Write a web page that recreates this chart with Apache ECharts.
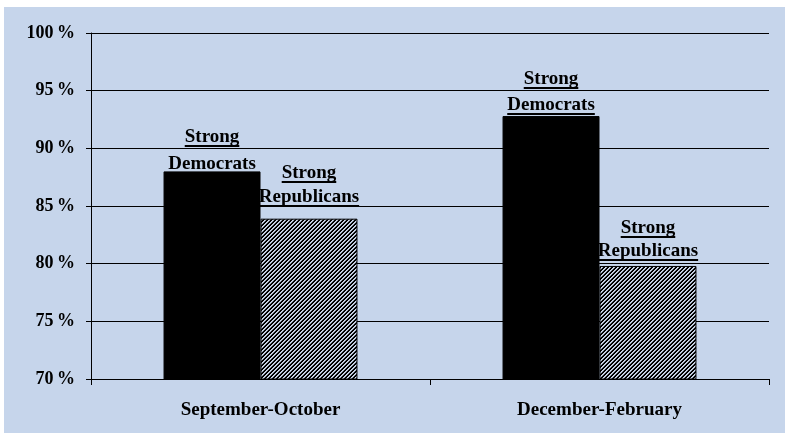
<!DOCTYPE html>
<html>
<head>
<meta charset="utf-8">
<script src="https://cdn.jsdelivr.net/npm/echarts@6/dist/echarts.min.js"></script>
<style>
html,body{margin:0;padding:0;background:#fff;}
#wrap{position:relative;width:785px;height:433px;overflow:hidden;}
#bg{position:absolute;left:4px;top:7px;right:0;bottom:0;background:#c6d5eb;}
#c{position:absolute;left:0;top:0;width:785px;height:433px;}
</style>
</head>
<body>
<div id="wrap"><div id="bg"></div><div id="c"></div></div>
<script>
// ---- data ----
const categories = ['September-October', 'December-February'];
const seriesNames = ['Strong Democrats', 'Strong Republicans'];
const democrats = [88.0, 92.8];
const republicans = [83.9, 79.8];
const labelLines = [['Strong', 'Democrats'], ['Strong', 'Republicans']];
const yMin = 70, yMax = 100, yStep = 5;

// ---- styles ----
const FONT_FAMILY = '"Liberation Serif", "Times New Roman", serif';
const FONT = 'bold 19px ' + FONT_FAMILY;
// label lifts above bar top [line1, line2] per series per category (px)
const labelLift = [[[34, 7], [37, 11]], [[46, 22], [38, 15]]];

function makeHatch() {
  const cv = document.createElement('canvas');
  cv.width = 4; cv.height = 4;
  const ctx = cv.getContext('2d');
  ctx.fillStyle = '#000';
  ctx.fillRect(0, 0, 4, 4);
  for (let x = 0; x < 4; x++) {
    for (let y = 0; y < 4; y++) {
      const k = (x + y) % 4;
      if (k === 0) { ctx.fillStyle = '#d4deef'; ctx.fillRect(x, y, 1, 1); }
      else if (k === 1) { ctx.fillStyle = '#a9b5c8'; ctx.fillRect(x, y, 1, 1); }
    }
  }
  return cv;
}
const measureCtx = document.createElement('canvas').getContext('2d');
measureCtx.font = FONT;
function textW(t) { return measureCtx.measureText(t).width; }

const labelData = [];
[democrats, republicans].forEach(function (vals, s) {
  vals.forEach(function (v, c) { labelData.push([c, v, s]); });
});

const BAR_FRAC = 0.286;

const chart = echarts.init(document.getElementById('c'), null, {renderer: 'canvas'});
chart.setOption({
  backgroundColor: 'transparent',
  animation: false,
  grid: {left: 91, right: 16, top: 33, bottom: 54},
  xAxis: {
    type: 'category',
    data: categories,
    axisLine: {lineStyle: {color: '#000', width: 1}},
    axisTick: {show: true, length: 6, lineStyle: {color: '#000'}},
    axisLabel: {color: '#000', fontFamily: FONT_FAMILY, fontWeight: 'bold', fontSize: 19, margin: 22},
    splitLine: {show: false}
  },
  yAxis: {
    type: 'value',
    min: yMin, max: yMax, interval: yStep,
    axisLine: {show: true, lineStyle: {color: '#000', width: 1}},
    axisTick: {show: true, length: 5, lineStyle: {color: '#000'}},
    axisLabel: {color: '#000', fontFamily: FONT_FAMILY, fontWeight: 'bold', fontSize: 18, margin: 16,
      formatter: function (v) { return v + '\u2009%'; }},
    splitLine: {show: true, lineStyle: {color: '#000', width: 1}}
  },
  series: [
    {
      name: seriesNames[0], type: 'bar', data: democrats,
      barWidth: (BAR_FRAC * 100) + '%', barGap: '0%',
      itemStyle: {color: '#000', borderColor: '#000', borderWidth: 1}
    },
    {
      name: seriesNames[1], type: 'bar', data: republicans,
      barWidth: (BAR_FRAC * 100) + '%', barGap: '0%',
      itemStyle: {color: {image: makeHatch(), repeat: 'repeat'}, borderColor: '#000', borderWidth: 1}
    },
    {
      type: 'custom',
      data: labelData,
      z: 10,
      renderItem: function (params, api) {
        const c = api.value(0), v = api.value(1), s = api.value(2);
        const pt = api.coord([c, v]);
        const band = api.size([1, 0])[0];
        const x = pt[0] + (s === 0 ? -1 : 1) * band * BAR_FRAC / 2;
        const lines = labelLines[s];
        const lifts = labelLift[s][c];
        const children = [];
        lines.forEach(function (t, i) {
          const y = Math.round(pt[1] - lifts[i]);
          const w = textW(t);
          children.push({type: 'text', style: {text: t, x: x, y: y, font: FONT, fill: '#000', align: 'center', verticalAlign: 'middle'}});
          children.push({type: 'line', shape: {x1: x - w / 2, y1: y + 9, x2: x + w / 2, y2: y + 9}, style: {stroke: '#000', lineWidth: 2}});
        });
        return {type: 'group', children: children};
      }
    }
  ]
});
</script>
</body>
</html>
